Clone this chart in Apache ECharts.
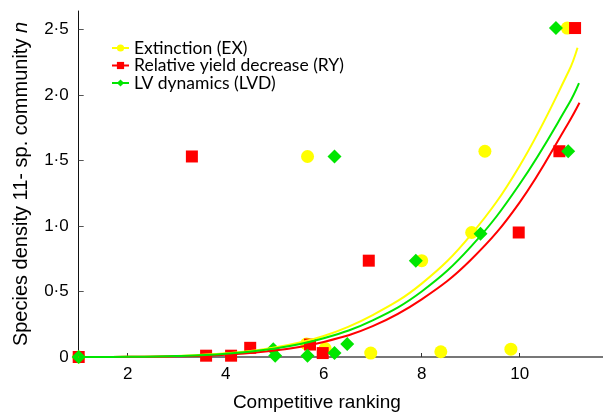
<!DOCTYPE html>
<html>
<head>
<meta charset="utf-8">
<script src="https://cdn.jsdelivr.net/npm/echarts@6/dist/echarts.min.js"></script>
<style>
  html, body { margin: 0; padding: 0; background: #ffffff; }
  #chart { width: 603px; height: 417px; }
</style>
</head>
<body>
<div id="chart"></div>
<script>
// Observed species densities by competitive rank (11-species community)
const exPoints = [[1, 0], [5.67, 1.53], [5.65, 0.10], [6.03, 0.065], [6.96, 0.03], [8.0, 0.735],
                  [8.39, 0.04], [9.02, 0.95], [9.29, 1.57], [9.82, 0.06], [10.97, 2.51]];
const ryPoints = [[1, 0], [3.31, 1.53], [3.60, 0.01], [4.11, 0.01], [4.50, 0.07], [5.72, 0.095],
                  [5.98, 0.03], [6.92, 0.735], [9.98, 0.95], [10.81, 1.57], [11.13, 2.51]];
const lvdPoints = [[1, 0], [4.97, 0.06], [5.01, 0.01], [5.67, 0.01], [6.22, 0.03], [6.48, 0.10],
                   [6.22, 1.53], [7.88, 0.735], [9.20, 0.94], [10.99, 1.57], [10.74, 2.51]];

// Fitted trend curves, sampled along the ranking axis
const exFit  = [[1, 0], [2, 0.001], [3, 0.008], [4, 0.028], [5, 0.072], [6, 0.16], [7, 0.32],
                [8, 0.56], [9, 0.93], [10, 1.46], [11, 2.18], [11.18, 2.36]];
const ryFit  = [[1, 0], [2, 0.001], [3, 0.005], [4, 0.018], [5, 0.049], [6, 0.115], [7, 0.235],
                [8, 0.44], [9, 0.74], [10, 1.18], [11, 1.79], [11.22, 1.94]];
const lvdFit = [[1, 0], [2, 0.001], [3, 0.007], [4, 0.025], [5, 0.064], [6, 0.143], [7, 0.28],
                [8, 0.50], [9, 0.84], [10, 1.32], [11, 1.93], [11.21, 2.09]];

const seriesNames = ['Extinction (EX)', 'Relative yield decrease (RY)', 'LV dynamics (LVD)'];
const xTicks = [2, 4, 6, 8, 10];
const yTicks = [0, 0.5, 1.0, 1.5, 2.0, 2.5];

const YELLOW = '#ffff00';
const RED = '#ff0000';
const GREEN = '#00e600';

const chart = echarts.init(document.getElementById('chart'), null, { renderer: 'canvas' });

function fitSeries(name, data, color, symbol, z) {
  return {
    name: name,
    type: 'line',
    data: data,
    smooth: 0.4,
    showSymbol: false,
    symbol: symbol,
    symbolSize: 8,
    lineStyle: { color: color, width: 2 },
    itemStyle: { color: color },
    z: z,
    silent: true
  };
}

function pointSeries(name, data, color, symbol, size, z) {
  return {
    name: name,
    type: 'scatter',
    data: data,
    symbol: symbol,
    symbolSize: size,
    itemStyle: { color: color, opacity: 1 },
    z: z,
    clip: false
  };
}

chart.setOption({
  animation: false,
  backgroundColor: '#ffffff',
  grid: { left: 78.7, right: 0, top: 11, bottom: 57, containLabel: false },
  legend: {
    left: 106,
    top: 34,
    orient: 'vertical',
    itemWidth: 17,
    itemHeight: 9,
    itemGap: -0.5,
    data: seriesNames,
    textStyle: { fontFamily: 'Lato', fontSize: 17.5, lineHeight: 17, color: '#000000' },
    selectedMode: false
  },
  xAxis: {
    type: 'value',
    min: 1,
    max: 11.7,
    name: 'Competitive ranking',
    nameLocation: 'middle',
    nameGap: 36,
    nameTextStyle: { fontFamily: 'Liberation Sans', fontSize: 19, color: '#000000', padding: [0, 48, 0, 0] },
    axisLine: { show: true, lineStyle: { color: '#777777', width: 2 } },
    axisTick: { show: true, inside: true, length: 4, customValues: xTicks, lineStyle: { color: '#333333' } },
    axisLabel: { customValues: xTicks, fontFamily: 'Liberation Sans', fontSize: 17, color: '#000000', margin: 9 },
    splitLine: { show: false }
  },
  yAxis: {
    type: 'value',
    min: 0,
    max: 2.64,
    name: 'Species density 11- sp. community {i|n}',
    nameLocation: 'middle',
    nameGap: 47,
    nameTextStyle: {
      fontFamily: 'Liberation Sans', fontSize: 20, color: '#000000',
      rich: { i: { fontFamily: 'Liberation Sans', fontSize: 20, fontStyle: 'italic', color: '#000000' } }
    },
    axisLine: { show: true, lineStyle: { color: '#111111', width: 1 } },
    axisTick: { show: true, inside: true, length: 5, customValues: yTicks, lineStyle: { color: '#555555' } },
    axisLabel: {
      customValues: yTicks,
      fontFamily: 'Liberation Sans', fontSize: 17, color: '#000000', margin: 10,
      formatter: function (v) { return v === 0 ? '0' : v.toFixed(1).replace('.', '\u00b7'); }
    },
    splitLine: { show: false }
  },
  series: [
    fitSeries(seriesNames[0], exFit, YELLOW, 'circle', 10),
    fitSeries(seriesNames[1], ryFit, RED, 'rect', 10),
    fitSeries(seriesNames[2], lvdFit, GREEN, 'diamond', 11),
    pointSeries(seriesNames[0], exPoints, YELLOW, 'circle', 13, 3),
    pointSeries(seriesNames[1], ryPoints, RED, 'rect', 12, 4),
    pointSeries(seriesNames[2], lvdPoints, GREEN, 'diamond', 14, 5)
  ]
});
</script>
</body>
</html>
